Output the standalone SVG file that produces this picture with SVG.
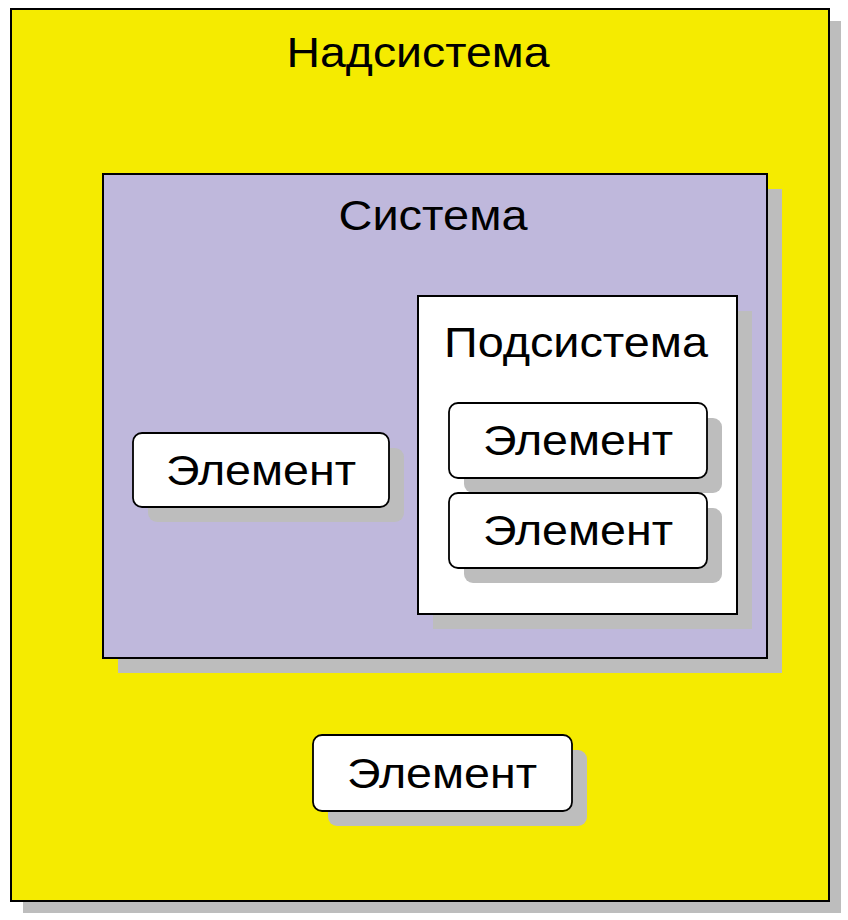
<svg xmlns="http://www.w3.org/2000/svg" width="848" height="920" viewBox="0 0 848 920">
<style>
.sh{fill:#bdbdbd}
.box{stroke:#000;stroke-width:2}
.el{fill:#fff;stroke:#000;stroke-width:1.8}
text{font-family:"Liberation Sans",Arial,sans-serif;font-size:42px;fill:#000;text-anchor:middle}
</style>
<rect width="848" height="920" fill="#fff"/>
<g id="nadsistema">
<rect class="sh" x="23" y="21" width="818" height="892"/>
<rect class="box" x="11" y="9" width="818" height="892" fill="#f5eb00"/>
<text x="418" y="67" textLength="263" lengthAdjust="spacingAndGlyphs">Надсистема</text>
</g>
<g id="sistema">
<rect class="sh" x="118" y="189" width="664" height="484"/>
<rect class="box" x="103" y="174" width="664" height="484" fill="#bfb8dc"/>
<text x="433" y="230" textLength="189" lengthAdjust="spacingAndGlyphs">Система</text>
</g>
<g id="podsistema">
<rect class="sh" x="433" y="311" width="319" height="318"/>
<rect class="box" x="418" y="296" width="319" height="318" fill="#fff"/>
<text x="576" y="357" textLength="264" lengthAdjust="spacingAndGlyphs">Подсистема</text>
</g>
<g id="element1">
<rect class="sh" x="148" y="448" width="256" height="74" rx="9"/>
<rect class="el" x="133" y="433" width="256" height="74" rx="9"/>
<text x="261" y="485" textLength="190" lengthAdjust="spacingAndGlyphs">Элемент</text>
</g>
<g id="element2">
<rect class="sh" x="464" y="418" width="258" height="75" rx="9"/>
<rect class="el" x="449" y="403" width="258" height="75" rx="9"/>
<text x="578" y="455" textLength="190" lengthAdjust="spacingAndGlyphs">Элемент</text>
</g>
<g id="element3">
<rect class="sh" x="464" y="508" width="258" height="75" rx="9"/>
<rect class="el" x="449" y="493" width="258" height="75" rx="9"/>
<text x="578" y="545" textLength="190" lengthAdjust="spacingAndGlyphs">Элемент</text>
</g>
<g id="element4">
<rect class="sh" x="328" y="750" width="259" height="76" rx="9"/>
<rect class="el" x="313" y="735" width="259" height="76" rx="9"/>
<text x="442" y="788" textLength="190" lengthAdjust="spacingAndGlyphs">Элемент</text>
</g>
<g id="connectors"/>
</svg>
